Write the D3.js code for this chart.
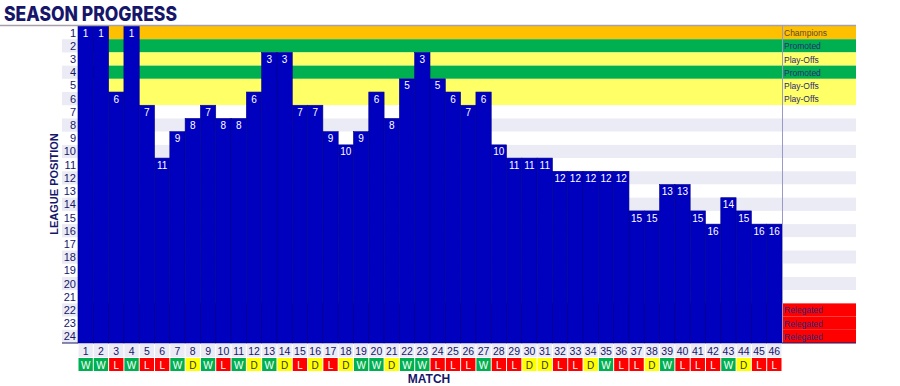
<!DOCTYPE html>
<html>
<head>
<meta charset="utf-8">
<script src="https://cdn.jsdelivr.net/npm/d3@7"></script>
<style>
  body { margin: 0; background: #fff; }
  svg { display: block; font-family: "Liberation Sans", Arial, sans-serif; }
</style>
</head>
<body>
<svg id="chart" width="900" height="386"></svg>
<script>
// league position after each match
var matches = d3.range(1, 47);
var positions = [1, 1, 6, 1, 7, 11, 9, 8, 7, 8, 8, 6, 3, 3, 7, 7, 9, 10, 9, 6, 8, 5, 3, 5, 6, 7, 6,
  10, 11, 11, 11, 12, 12, 12, 12, 12, 15, 15, 13, 13, 15, 16, 14, 15, 16, 16];
var results = ["W", "W", "L", "W", "L", "L", "W", "D", "W", "L", "W", "D", "W", "D", "L", "D", "L", "D",
  "W", "W", "D", "W", "W", "L", "L", "L", "W", "L", "L", "D", "D", "L", "L", "D", "W", "L", "L", "D",
  "W", "L", "L", "L", "W", "D", "L", "L"];
var leaguePositions = d3.range(1, 25);
// zone of each table position (1..24)
var zones = ["Champions", "Promoted", "Play-Offs", "Promoted", "Play-Offs", "Play-Offs",
  "", "", "", "", "", "", "", "", "", "", "", "", "", "", "", "Relegated", "Relegated", "Relegated"];

var zoneColor = {
  "Champions": "#ffc000",
  "Promoted": "#00b050",
  "Play-Offs": "#ffff66",
  "Relegated": "#ff0000"
};
var resultColor = { W: "#00b050", L: "#ff0000", D: "#ffff00" };
var navy = "#16166b";
var barBlue = "#0000bf";
var stripe = "#ebebf5";

var svg = d3.select("#chart");

var x = d3.scaleBand().domain(matches).range([78, 782]);
var y = d3.scaleBand().domain(leaguePositions).range([26, 343]);
var legendX0 = 782, legendX1 = 856;

function rowFill(p) {
  var z = zones[p - 1];
  if (z) return zoneColor[z];
  return p % 2 == 0 ? stripe : "#fff";
}

// title
svg.append("text")
  .attr("x", 4).attr("y", 21)
  .style("font-family", "Inter, 'Liberation Sans', sans-serif")
  .style("font-size", "20px").style("font-weight", "800")
  .attr("textLength", 173).attr("lengthAdjust", "spacingAndGlyphs")
  .attr("fill", navy)
  .text("SEASON PROGRESS");

// row bands in the plot
svg.append("g").selectAll("rect")
  .data(leaguePositions)
  .enter().append("rect")
  .attr("x", x.range()[0]).attr("y", function(d) { return y(d); })
  .attr("width", legendX1 - x.range()[0]).attr("height", y.bandwidth())
  .attr("fill", rowFill);

// row label background stripes
svg.append("g").selectAll("rect")
  .data(leaguePositions.filter(function(d) { return d % 2 == 0; }))
  .enter().append("rect")
  .attr("x", 62).attr("y", function(d) { return y(d); })
  .attr("width", 16).attr("height", y.bandwidth())
  .attr("fill", stripe);

svg.append("g").selectAll("text")
  .data(leaguePositions)
  .enter().append("text")
  .attr("x", 76).attr("y", function(d) { return y(d) + y.bandwidth() / 2 + 4; })
  .attr("text-anchor", "end")
  .style("font-size", "11px")
  .attr("fill", navy)
  .text(function(d) { return d; });

// bars: from position down to the bottom of the table
var bottom = y.range()[1];
svg.append("g").selectAll("rect")
  .data(matches)
  .enter().append("rect")
  .attr("x", function(d) { return x(d); })
  .attr("y", function(d) { return y(positions[d - 1]); })
  .attr("width", x.bandwidth())
  .attr("height", function(d) { return bottom - y(positions[d - 1]); })
  .attr("fill", barBlue)
  .attr("stroke", "#00008a").attr("stroke-width", 0.6);

svg.append("g").selectAll("text")
  .data(matches)
  .enter().append("text")
  .attr("x", function(d) { return x(d) + x.bandwidth() / 2; })
  .attr("y", function(d) { return y(positions[d - 1]) + y.bandwidth() / 2 + 4; })
  .attr("text-anchor", "middle")
  .style("font-size", "10px")
  .attr("fill", "#fff")
  .text(function(d) { return positions[d - 1]; });

// legend column text
svg.append("g").selectAll("text")
  .data(leaguePositions.filter(function(d) { return zones[d - 1]; }))
  .enter().append("text")
  .attr("x", legendX0 + 2).attr("y", function(d) { return y(d) + y.bandwidth() / 2 + 3.5; })
  .style("font-size", "8.5px")
  .attr("fill", function(d) { return zones[d - 1] == "Champions" ? "#5a4a30" : "#2a2a78"; })
  .text(function(d) { return zones[d - 1]; });

// lines
svg.append("line")
  .attr("x1", 0).attr("x2", legendX1).attr("y1", 25.5).attr("y2", 25.5)
  .attr("stroke", "#a8a0a8").attr("stroke-width", 1.5);
svg.append("line")
  .attr("x1", legendX0 + 0.5).attr("x2", legendX0 + 0.5).attr("y1", 26).attr("y2", bottom)
  .attr("stroke", "#9a9ac8").attr("stroke-width", 1);
svg.append("line")
  .attr("x1", 62).attr("x2", 78).attr("y1", bottom).attr("y2", bottom)
  .attr("stroke", navy).attr("stroke-width", 1);
svg.append("line")
  .attr("x1", legendX0).attr("x2", legendX1).attr("y1", bottom).attr("y2", bottom)
  .attr("stroke", navy).attr("stroke-width", 1);

// match numbers row
var numRow = svg.append("g");
numRow.selectAll("rect")
  .data(matches)
  .enter().append("rect")
  .attr("x", function(d) { return x(d) + 0.5; })
  .attr("y", bottom + 1)
  .attr("width", x.bandwidth() - 1).attr("height", 13)
  .attr("fill", stripe);
numRow.selectAll("text")
  .data(matches)
  .enter().append("text")
  .attr("x", function(d) { return x(d) + x.bandwidth() / 2; })
  .attr("y", bottom + 11.5)
  .attr("text-anchor", "middle")
  .style("font-size", "10.5px")
  .attr("fill", navy)
  .text(function(d) { return d; });

// results row
var resRow = svg.append("g");
resRow.selectAll("rect")
  .data(matches)
  .enter().append("rect")
  .attr("x", function(d) { return x(d) + 0.5; })
  .attr("y", bottom + 15)
  .attr("width", x.bandwidth() - 1).attr("height", 13)
  .attr("fill", function(d) { return resultColor[results[d - 1]]; });
resRow.selectAll("text")
  .data(matches)
  .enter().append("text")
  .attr("x", function(d) { return x(d) + x.bandwidth() / 2; })
  .attr("y", bottom + 25.5)
  .attr("text-anchor", "middle")
  .style("font-size", "10px")
  .attr("fill", function(d) { return results[d - 1] == "D" ? "#333" : "#fff"; })
  .text(function(d) { return results[d - 1]; });

// axis titles
svg.append("text")
  .attr("x", 429).attr("y", 383)
  .attr("text-anchor", "middle")
  .style("font-size", "12px").style("font-weight", "bold")
  .attr("fill", navy)
  .text("MATCH");

svg.append("text")
  .attr("transform", "translate(58,184) rotate(-90)")
  .attr("text-anchor", "middle")
  .style("font-size", "11px").style("font-weight", "bold")
  .attr("fill", navy)
  .text("LEAGUE POSITION");
</script>
</body>
</html>
